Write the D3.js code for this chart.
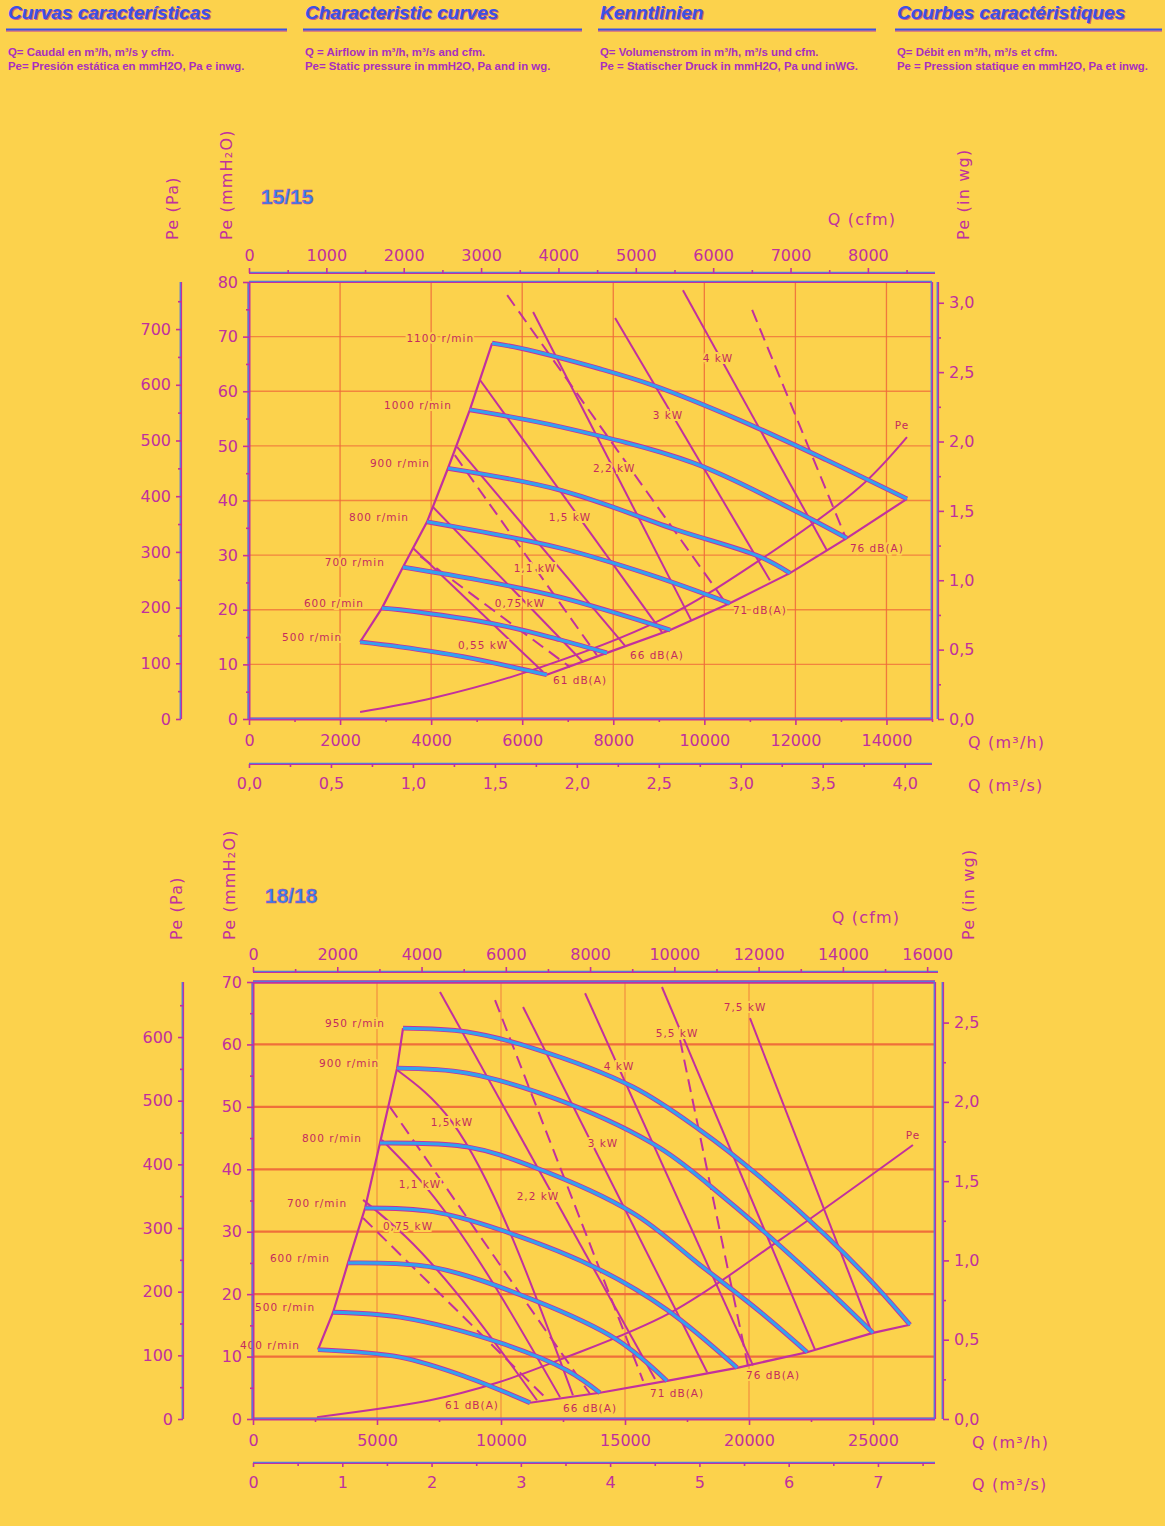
<!DOCTYPE html>
<html><head><meta charset="utf-8">
<script src="https://cdn.jsdelivr.net/npm/d3@7"></script>
<style>
body{margin:0;background:#fcd24c;}
svg{display:block}
</style></head><body>
<svg id="c" width="1165" height="1526"></svg>
<script>
// ================= DATA =================
const headTitles=["Curvas características","Characteristic curves","Kenntlinien","Courbes caractéristiques"];
const headLine1=["Q= Caudal en m³/h, m³/s y cfm.","Q = Airflow in m³/h, m³/s and cfm.","Q= Volumenstrom in m³/h, m³/s und cfm.","Q= Débit en m³/h, m³/s et cfm."];
const headLine2=["Pe= Presión estática en mmH2O, Pa e inwg.","Pe= Static pressure in mmH2O, Pa and in wg.","Pe = Statischer Druck in mmH2O, Pa und inWG.","Pe = Pression statique en mmH2O, Pa et inwg."];

// ---- 15/15  (Q in m3/h, Pe in mmH2O) ----
const topName="15/15";
const topRpm=["1100 r/min","1000 r/min","900 r/min","800 r/min","700 r/min","600 r/min","500 r/min"];
const topSpeed=[
 [[5340,68.8],[5950,67.9],[7710,64.1],[8870,61.1],[10780,54.7],[12690,47.4],[14450,40.3]],
 [[4850,56.6],[6830,53.5],[9750,46.9],[11950,38.3],[13130,33.1]],
 [[4370,45.9],[6830,41.9],[9400,34.6],[11220,29.7],[11880,26.7]],
 [[3910,36.1],[6830,31.3],[8810,26.4],[10560,21.2]],
 [[3380,27.8],[5070,25.4],[6830,22.3],[9250,16.3]],
 [[2920,20.3],[3320,20.0],[5510,17.2],[6830,14.5],[7860,12.1]],
 [[2440,14.1],[3320,13.2],[4700,11.4],[6540,8.1]]
];
const topSystem=[[2440,1.3],[4020,3.8],[6020,8.4],[9030,18.1],[11220,29.1],[13420,42.5],[14450,51.6]];
const topPowerNames=["0,55 kW","0,75 kW","1,1 kW","1,5 kW","2,2 kW","3 kW","4 kW"];
const topPower=[
 [[3600,31.3],[6460,8.6]],
 [[4040,38.8],[7340,10.4]],
 [[4570,49.8],[8260,13.4]],
 [[5070,62.1],[9070,15.9]],
 [[6240,74.5],[9710,18.1]],
 [[8040,73.4],[11440,25.4]],
 [[9530,78.5],[12690,30.9]]
];
const topPowerAt=[[5140,13.5],[5950,21.2],[6280,27.6],[7050,37.0],[8020,45.9],[9200,55.7],[10300,66.1]];
const topSoundNames=["61 dB(A)","66 dB(A)","71 dB(A)","76 dB(A)"];
const topSound=[
 [[3760,29.8],[7050,9.5]],
 [[4520,48.3],[7640,11.7]],
 [[5670,77.6],[10500,20.9]],
 [[11050,74.9],[13090,33.5]]
];
const topSoundAt=[[7270,7.1],[8960,11.7],[11220,20.0],[13790,31.3]];
const topPeAt=[14340,53.8];
const topQMajor=[0,2000,4000,6000,8000,10000,12000,14000];
const topQMinor=[1000,3000,5000,7000,9000,11000,13000,15000];
const topCfmMajor=[0,1000,2000,3000,4000,5000,6000,7000,8000];
const topCfmMinor=[500,1500,2500,3500,4500,5500,6500,7500,8500];
const topMsMajor=[0,0.5,1,1.5,2,2.5,3,3.5,4];
const topMsMinor=[0.25,0.75,1.25,1.75,2.25,2.75,3.25,3.75];
const topMmMajor=[0,10,20,30,40,50,60,70,80];
const topMmMinor=[5,15,25,35,45,55,65,75];
const topPaMajor=[0,100,200,300,400,500,600,700];
const topPaMinor=[50,150,250,350,450,550,650,750];
const topWgMajor=[0,0.5,1,1.5,2,2.5,3];
const topWgMinor=[0.25,0.75,1.25,1.75,2.25,2.75];

// ---- 18/18 ----
const botName="18/18";
const botRpm=["950 r/min","900 r/min","800 r/min","700 r/min","600 r/min","500 r/min","400 r/min"];
const botSpeed=[
 [[6050,62.6],[8630,62.0],[11290,59.4],[15320,53.2],[18020,46.3],[20440,38.8],[23150,29.2],[25160,21.1],[26490,15.1]],
 [[5810,56.2],[8630,55.4],[12660,50.6],[16410,43.4],[19110,35.1],[22460,23.4],[25000,13.8]],
 [[5120,44.2],[8630,43.6],[11290,40.4],[15320,33.0],[18020,24.7],[20440,17.2],[22340,10.7]],
 [[4520,33.8],[7260,33.2],[9960,30.3],[13990,23.9],[16690,17.5],[19520,8.2]],
 [[3830,25.0],[7260,24.3],[11290,19.1],[14680,12.7],[16690,6.1]],
 [[3230,17.1],[5930,16.3],[9960,12.2],[12660,7.8],[13990,4.2]],
 [[2620,11.1],[5930,9.9],[8630,6.7],[11170,2.6]]
];
const botSystem=[[2580,0.3],[7140,3.0],[9840,5.8],[12380,9.5],[16820,17.0],[21250,28.7],[26610,43.9]];
const botPowerNames=["0,75 kW","1,1 kW","1,5 kW","2,2 kW","3 kW","4 kW","5,5 kW","7,5 kW"];
const botPower=[
 [[4440,35.1],[6130,29.3],[11450,3.0]],
 [[5200,44.7],[6730,38.3],[12380,3.5]],
 [[5810,55.9],[8020,47.6],[12900,3.8]],
 [[7540,68.4],[16210,6.4]],
 [[10890,66.0],[18310,7.5]],
 [[13390,68.2],[20160,8.6]],
 [[16490,69.2],[22660,11.1]],
 [[20040,64.2],[24960,13.8]]
];
const botPowerAt=[[6250,30.9],[6730,37.6],[8020,47.6],[11490,35.7],[14110,44.2],[14760,56.5],[17100,61.8],[19840,66.0]];
const botSoundNames=["61 dB(A)","66 dB(A)","71 dB(A)","76 dB(A)"];
const botSound=[
 [[4440,32.2],[11900,3.0]],
 [[5520,50.0],[13590,4.0]],
 [[9760,67.1],[15730,6.1]],
 [[17220,60.7],[19960,8.5]]
];
const botSoundAt=[[8830,2.2],[13590,1.8],[17100,4.2],[20970,7.0]];
const botPeAt=[26610,45.5];
const botQMajor=[0,5000,10000,15000,20000,25000];
const botQMinor=[2500,7500,12500,17500,22500];
const botCfmMajor=[0,2000,4000,6000,8000,10000,12000,14000,16000];
const botCfmMinor=[1000,3000,5000,7000,9000,11000,13000,15000];
const botMsMajor=[0,1,2,3,4,5,6,7];
const botMsMinor=[0.5,1.5,2.5,3.5,4.5,5.5,6.5,7.5];
const botMmMajor=[0,10,20,30,40,50,60,70];
const botMmMinor=[5,15,25,35,45,55,65];
const botPaMajor=[0,100,200,300,400,500,600];
const botPaMinor=[50,150,250,350,450,550,650];
const botWgMajor=[0,0.5,1,1.5,2,2.5];
const botWgMinor=[0.25,0.75,1.25,1.75,2.25];

// ================= STYLE =================
const BG="#fcd24c", MAG="#c2309e", BLUE="#3d8ce8", CYAN="#33a2ee", ORG="#ef6a3a", LBL="#c42b5e", TXT="#c0309e";
const FONT="'DejaVu Sans', Verdana, sans-serif";
const svg=d3.select("#c");
svg.append("rect").attr("width",1165).attr("height",1526).attr("fill",BG);

// ---------- header ----------
const headX=[8,305,600,897], headEnd=[287,582,876,1162];
headTitles.forEach((t,i)=>{
  const g=svg.append("g");
  g.append("text").attr("x",headX[i]+1.2).attr("y",20.2).text(t)
   .attr("font-family","'Liberation Sans',Arial,sans-serif").attr("font-weight","bold").attr("font-style","italic")
   .attr("font-size",19).attr("fill",MAG).attr("opacity",0.75);
  g.append("text").attr("x",headX[i]).attr("y",19).text(t)
   .attr("font-family","'Liberation Sans',Arial,sans-serif").attr("font-weight","bold").attr("font-style","italic")
   .attr("font-size",19).attr("fill","#3a52e6");
  g.append("line").attr("x1",headX[i]-2).attr("x2",headEnd[i]).attr("y1",31).attr("y2",31).attr("stroke",MAG).attr("stroke-width",1.2);
  g.append("line").attr("x1",headX[i]-2).attr("x2",headEnd[i]).attr("y1",29.5).attr("y2",29.5).attr("stroke","#3a52e6").attr("stroke-width",1.8);
  [headLine1[i],headLine2[i]].forEach((s,k)=>{
    g.append("text").attr("x",headX[i]).attr("y",56+k*14).text(s)
     .attr("font-family","'Liberation Sans',Arial,sans-serif").attr("font-weight","bold")
     .attr("font-size",11.4).attr("fill","#a82ec0");
  });
});

// ---------- chart ----------
function dbl(g,x1,y1,x2,y2,w,horiz){
  g.append("line").attr("x1",x1).attr("y1",y1).attr("x2",x2).attr("y2",y2).attr("stroke",MAG).attr("stroke-width",w);
  const dx=horiz?0:-0.8, dy=horiz?-0.8:0;
  g.append("line").attr("x1",x1+dx).attr("y1",y1+dy).attr("x2",x2+dx).attr("y2",y2+dy).attr("stroke",BLUE).attr("stroke-width",1.1);
}
function styleAxis(sel){
  sel.select(".domain").remove();
  sel.attr("font-family",FONT).attr("font-size",16);
  sel.selectAll("line").attr("stroke",MAG).attr("stroke-width",1.6);
  sel.selectAll("text").attr("fill",TXT);
}
const comma=d=>d3.format(".1f")(d).replace(".",",");

function chart(L,D){
  const g=svg.append("g");
  const x=d3.scaleLinear().domain([0,L.Qmax]).range([L.x0,L.x1]);
  const y=d3.scaleLinear().domain([0,L.Pmax]).range([L.yB,L.yT]);
  const xc=d3.scaleLinear().domain([0,L.Qmax/1.699]).range([L.x0,L.x1]);
  const xs=d3.scaleLinear().domain([0,L.Qmax/3600]).range([L.x0,L.x1]);
  const ypa=d3.scaleLinear().domain([0,L.Pmax*9.80665]).range([L.yB,L.yT]);
  const ywg=d3.scaleLinear().domain([0,L.Pmax/25.4]).range([L.yB,L.yT]);

  // grid
  g.append("g").selectAll("line").data(D.qMajor.filter(v=>v>0)).join("line")
   .attr("x1",d=>x(d)).attr("x2",d=>x(d)).attr("y1",L.yT).attr("y2",L.yB)
   .attr("stroke",ORG).attr("stroke-width",L.vgw).attr("opacity",L.vgo);
  g.append("g").selectAll("line").data(D.mmMajor.filter(v=>v>0&&v<L.Pmax)).join("line")
   .attr("x1",L.x0).attr("x2",L.x1).attr("y1",d=>y(d)).attr("y2",d=>y(d))
   .attr("stroke",ORG).attr("stroke-width",L.hgw).attr("opacity",L.hgo);

  const lineM=d3.line().x(d=>x(d[0])).y(d=>y(d[1])).curve(d3.curveMonotoneX);
  const lineC=d3.line().x(d=>x(d[0])).y(d=>y(d[1])).curve(d3.curveCatmullRom.alpha(0.5));
  const lineL=d3.line().x(d=>x(d[0])).y(d=>y(d[1]));

  // system curve
  g.append("path").attr("d",lineC(D.system)).attr("fill","none").attr("stroke",MAG).attr("stroke-width",2);
  // boundaries
  const starts=D.speed.map(c=>c[0]).sort((a,b)=>a[0]-b[0]);
  const ends=D.speed.map(c=>c[c.length-1]).sort((a,b)=>a[0]-b[0]);
  g.append("path").attr("d",lineL(starts)).attr("fill","none").attr("stroke",MAG).attr("stroke-width",2.2);
  g.append("path").attr("d",lineL(ends)).attr("fill","none").attr("stroke",MAG).attr("stroke-width",2.2);
  // power lines
  g.append("g").selectAll("path").data(D.power).join("path").attr("d",d=>lineM(d))
   .attr("fill","none").attr("stroke",MAG).attr("stroke-width",2);
  g.append("g").selectAll("path").data(D.sound).join("path").attr("d",d=>lineL(d))
   .attr("fill","none").attr("stroke",MAG).attr("stroke-width",2).attr("stroke-dasharray","13,7");
  // speed curves
  g.append("g").selectAll("path").data(D.speed).join("path").attr("d",d=>lineC(d))
   .attr("fill","none").attr("stroke",MAG).attr("stroke-width",4.8);
  g.append("g").selectAll("path").data(D.speed).join("path").attr("d",d=>lineC(d))
   .attr("fill","none").attr("stroke",CYAN).attr("stroke-width",3.1);

  // labels
  const lab=(sel)=>sel.attr("font-family",FONT).attr("font-size",10.5).attr("letter-spacing",1)
     .attr("fill",LBL).attr("stroke",BG).attr("stroke-width",4).attr("paint-order","stroke")
     .attr("dominant-baseline","central");
  lab(g.append("g").selectAll("text").data(D.speed).join("text")
     .attr("x",d=>x(d[0][0])-18).attr("y",d=>y(d[0][1])-5).attr("text-anchor","end").text((d,i)=>D.rpm[i]));
  lab(g.append("g").selectAll("text").data(D.powerAt).join("text")
     .attr("x",d=>x(d[0])).attr("y",d=>y(d[1])).attr("text-anchor","middle").text((d,i)=>D.powerNames[i]));
  lab(g.append("g").selectAll("text").data(D.soundAt).join("text")
     .attr("x",d=>x(d[0])).attr("y",d=>y(d[1])).attr("text-anchor","middle").text((d,i)=>D.soundNames[i]));
  lab(g.append("text").attr("x",x(D.peAt[0])).attr("y",y(D.peAt[1])).attr("text-anchor","middle").text("Pe"));

  // frame
  dbl(g,L.x0,L.yT,L.x1,L.yT,L.topW,true);
  dbl(g,L.x0,L.yB,L.x1,L.yB,3,true);
  dbl(g,L.x0,L.yT,L.x0,L.yB,3,false);
  dbl(g,L.x1,L.yT,L.x1,L.yB,2.2,false);

  // axes
  const ax=(gen,tx,ty)=>{const s=g.append("g").attr("transform",`translate(${tx},${ty})`).call(gen);styleAxis(s);return s;};
  ax(d3.axisLeft(y).tickValues(D.mmMajor).tickSize(6).tickPadding(5).tickFormat(d3.format("d")),L.x0,0);
  ax(d3.axisLeft(y).tickValues(D.mmMinor).tickSize(3).tickFormat(""),L.x0,0);
  dbl(g,L.paX,L.yT,L.paX,L.yB,2.2,false);
  ax(d3.axisLeft(ypa).tickValues(D.paMajor).tickSize(5).tickPadding(5).tickFormat(d3.format("d")),L.paX,0);
  ax(d3.axisLeft(ypa).tickValues(D.paMinor).tickSize(3).tickFormat(""),L.paX,0);
  dbl(g,L.wgX,L.yT,L.wgX,L.yB,2.2,false);
  ax(d3.axisRight(ywg).tickValues(D.wgMajor).tickSize(6).tickPadding(5).tickFormat(comma),L.wgX,0);
  ax(d3.axisRight(ywg).tickValues(D.wgMinor).tickSize(3).tickFormat(""),L.wgX,0);
  dbl(g,L.x0,L.cfmY,L.x1+3,L.cfmY,2.2,true);
  ax(d3.axisTop(xc).tickValues(D.cfmMajor).tickSize(5).tickPadding(7).tickFormat(d3.format("d")),0,L.cfmY);
  ax(d3.axisTop(xc).tickValues(D.cfmMinor).tickSize(3).tickFormat(""),0,L.cfmY);
  ax(d3.axisBottom(x).tickValues(D.qMajor).tickSize(6).tickPadding(10).tickFormat(d3.format("d")),0,L.yB);
  ax(d3.axisBottom(x).tickValues(D.qMinor).tickSize(3).tickFormat(""),0,L.yB);
  dbl(g,L.x0,L.msY,L.x1,L.msY,2.2,true);
  ax(d3.axisBottom(xs).tickValues(D.msMajor).tickSize(4).tickPadding(10).tickFormat(L.msFmt),0,L.msY);
  ax(d3.axisBottom(xs).tickValues(D.msMinor).tickSize(3).tickFormat(""),0,L.msY);

  // titles
  const tt=(s)=>s.attr("font-family",FONT).attr("font-size",16).attr("letter-spacing",1.2).attr("fill",TXT);
  tt(g.append("text").attr("transform",`translate(${L.paTX},${L.rotY}) rotate(-90)`).text("Pe (Pa)"));
  tt(g.append("text").attr("transform",`translate(${L.mmTX},${L.rotY}) rotate(-90)`).text("Pe (mmH₂O)"));
  tt(g.append("text").attr("transform",`translate(${L.wgTX},${L.rotY}) rotate(-90)`).text("Pe (in wg)"));
  tt(g.append("text").attr("x",L.cfmTX).attr("y",L.cfmTY).attr("text-anchor","middle").attr("dominant-baseline","central").text("Q (cfm)"));
  tt(g.append("text").attr("x",L.qTX).attr("y",L.yB+23).attr("dominant-baseline","central").text("Q (m³/h)"));
  tt(g.append("text").attr("x",L.qTX).attr("y",L.msY+21).attr("dominant-baseline","central").text("Q (m³/s)"));
  g.append("text").attr("x",L.x0+12).attr("y",L.nameY).attr("dominant-baseline","central")
   .attr("font-family","'Liberation Sans',Arial,sans-serif").attr("font-weight","bold").attr("font-size",21)
   .attr("fill","#2f86ea").attr("stroke",MAG).attr("stroke-width",0.5).text(D.name);
}

chart({x0:249,x1:932,yT:282,yB:719,Qmax:15000,Pmax:80,paX:181,wgX:938,cfmY:273,msY:764,
       topW:2.2,vgw:1.3,vgo:0.85,hgw:1.3,hgo:0.75,msFmt:comma,
       paTX:178,mmTX:232,wgTX:969,rotY:240,cfmTX:862,cfmTY:219,qTX:968,nameY:196},
 {name:topName,rpm:topRpm,speed:topSpeed,system:topSystem,power:topPower,powerNames:topPowerNames,powerAt:topPowerAt,
  sound:topSound,soundNames:topSoundNames,soundAt:topSoundAt,peAt:topPeAt,
  qMajor:topQMajor,qMinor:topQMinor,cfmMajor:topCfmMajor,cfmMinor:topCfmMinor,msMajor:topMsMajor,msMinor:topMsMinor,
  mmMajor:topMmMajor,mmMinor:topMmMinor,paMajor:topPaMajor,paMinor:topPaMinor,wgMajor:topWgMajor,wgMinor:topWgMinor});

chart({x0:253,x1:935,yT:982,yB:1419,Qmax:27500,Pmax:70,paX:183,wgX:943,cfmY:972,msY:1463,
       topW:3.5,vgw:1.3,vgo:0.6,hgw:2.2,hgo:0.95,msFmt:d3.format("d"),
       paTX:182,mmTX:235,wgTX:974,rotY:940,cfmTX:866,cfmTY:917,qTX:972,nameY:895},
 {name:botName,rpm:botRpm,speed:botSpeed,system:botSystem,power:botPower,powerNames:botPowerNames,powerAt:botPowerAt,
  sound:botSound,soundNames:botSoundNames,soundAt:botSoundAt,peAt:botPeAt,
  qMajor:botQMajor,qMinor:botQMinor,cfmMajor:botCfmMajor,cfmMinor:botCfmMinor,msMajor:botMsMajor,msMinor:botMsMinor,
  mmMajor:botMmMajor,mmMinor:botMmMinor,paMajor:botPaMajor,paMinor:botPaMinor,wgMajor:botWgMajor,wgMinor:botWgMinor});
</script></body></html>
